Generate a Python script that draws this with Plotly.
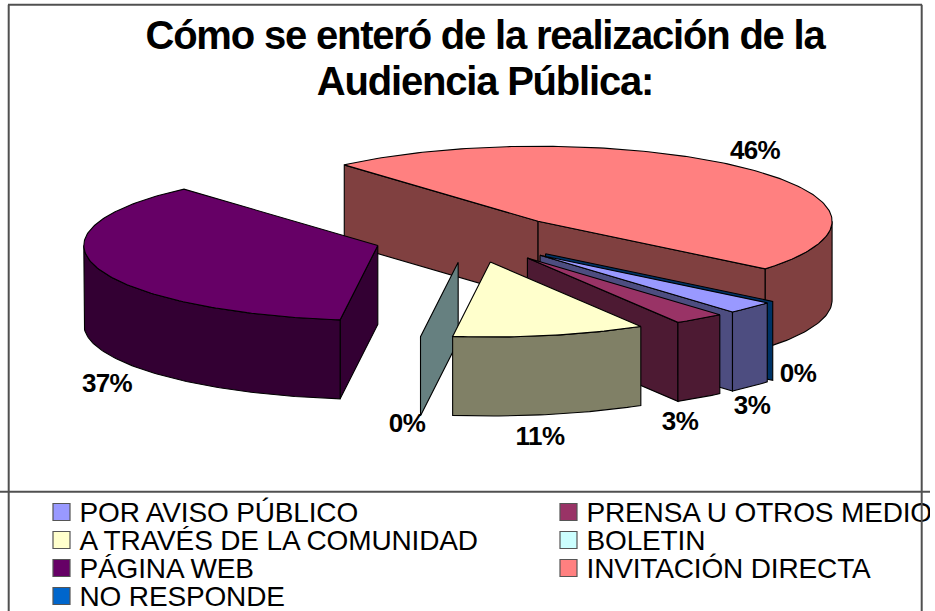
import math
import plotly.graph_objects as go

categories = ["POR AVISO PÚBLICO", "PRENSA U OTROS MEDIOS", "A TRAVÉS DE LA COMUNIDAD", "BOLETIN",
              "PÁGINA WEB", "INVITACIÓN DIRECTA", "NO RESPONDE"]
values = [2.7, 2.8, 10.6, 0.0, 36.5, 47.4, 0.0]
value_labels = ["3%", "3%", "11%", "0%", "37%", "46%", "0%"]
top_colors = ["#9999FF", "#993366", "#FFFFCC", "#CCFFFF", "#660066", "#FF8080", "#0066CC"]
side_colors = ["#4D4D80", "#4D1A33", "#808066", "#668080", "#330033", "#804040", "#003366"]
title_lines = ["Cómo se enteró de la realización de la", "Audiencia Pública:"]

# Pie layout, in the pixel scale of the axes
CX, CY, RX, RY, DEPTH = 470.6, 238.5, 294, 75, 79
EXPLODE_X, EXPLODE_Y = 97, 24
START = 129.4
DRAW_ORDER = [5, 4, 6, 0, 1, 3, 2]
LABEL_X = [752, 680, 540, 407, 107, 755, 798]
LABEL_Y = [407, 423, 438, 425, 385, 152, 375]
LEGEND_X = [53, 560]
LEGEND_Y = [512, 540, 568, 596]
LEGEND_POS = [(0, 0), (1, 0), (0, 1), (1, 1), (0, 2), (1, 2), (0, 3)]
TITLE_X = 485
TITLE_Y = [39, 85]

fig = go.Figure()


def poly(xs, ys, color):
    fig.add_trace(go.Scatter(x=xs, y=ys, mode="lines", fill="toself", fillcolor=color,
                             line=dict(color="#000000", width=1.1), hoverinfo="skip", showlegend=False))


starts = []
a = START
for v in values:
    starts.append(a)
    a += v * 3.6

for i in DRAW_ORDER:
    s = starts[i]
    e = s + values[i] * 3.6
    mid = math.radians((s + e) / 2)
    ax = CX + EXPLODE_X * math.sin(mid)
    ay = CY - EXPLODE_Y * math.cos(mid)

    def rim(t):
        r = math.radians(t)
        return ax + RX * math.sin(r), ay - RY * math.cos(r)

    def arc(t0, t1):
        n = max(int(abs(t1 - t0)), 1)
        return [rim(t0 + (t1 - t0) * k / n) for k in range(n + 1)]

    # Flat walls along the two radii, when they face the viewer
    for edge, normal in ((s, s - 90), (e, e + 90)):
        if -math.cos(math.radians(normal)) > 0:
            px, py = rim(edge)
            poly([ax, px, px, ax, ax], [ay, py, py + DEPTH, ay + DEPTH, ay], side_colors[i])
    # Curved wall along the front of the rim
    for k in (0, 360):
        t0, t1 = max(s, 90 + k), min(e, 270 + k)
        if t1 > t0:
            pts = arc(t0, t1)
            xs = [p[0] for p in pts] + [p[0] for p in reversed(pts)]
            ys = [p[1] for p in pts] + [p[1] + DEPTH for p in reversed(pts)]
            poly(xs + xs[:1], ys + ys[:1], side_colors[i])
    # Top face
    if values[i] > 0:
        pts = arc(s, e)
        poly([ax] + [p[0] for p in pts] + [ax], [ay] + [p[1] for p in pts] + [ay], top_colors[i])

# Data labels
fig.add_trace(go.Scatter(x=LABEL_X, y=LABEL_Y, mode="text", text=value_labels, textposition="middle center",
                         textfont=dict(family="Liberation Sans", size=26, color="#000000", weight="bold"),
                         hoverinfo="skip", showlegend=False))

# Legend
lx = [LEGEND_X[c] + 8.5 for c, r in LEGEND_POS]
ly = [LEGEND_Y[r] for c, r in LEGEND_POS]
fig.add_trace(go.Scatter(x=lx, y=ly, mode="markers",
                         marker=dict(symbol="square", size=17, color=top_colors,
                                     line=dict(color="#555555", width=1.2)),
                         hoverinfo="skip", showlegend=False))
fig.add_trace(go.Scatter(x=[x + 18 for x in lx], y=[y + 3 for y in ly], mode="text", text=categories,
                         textposition="middle right",
                         textfont=dict(family="Liberation Sans", size=28, color="#000000"),
                         hoverinfo="skip", showlegend=False))

# Title
fig.add_trace(go.Scatter(x=[TITLE_X] * 2, y=TITLE_Y, mode="text", text=title_lines, textposition="middle center",
                         textfont=dict(family="Liberation Sans", size=40, color="#000000", weight="bold"),
                         hoverinfo="skip", showlegend=False))

line = dict(color="#505050", width=2)
fig.add_shape(type="line", x0=8.7, x1=8.7, y0=4.7, y1=611, line=line, layer="above")
fig.add_shape(type="line", x0=8, x1=922, y0=4.7, y1=4.7, line=line, layer="above")
fig.add_shape(type="line", x0=921.7, x1=921.7, y0=4.7, y1=611, line=line, layer="above")
fig.add_shape(type="line", x0=0, x1=930, y0=491.7, y1=491.7, line=line, layer="above")

fig.update_layout(
    width=935, height=611, margin=dict(l=0, r=5, t=0, b=0),
    paper_bgcolor="#FFFFFF", plot_bgcolor="#FFFFFF", showlegend=False,
    xaxis=dict(range=[0, 930], visible=False, fixedrange=True),
    yaxis=dict(range=[611, 0], visible=False, fixedrange=True),
)

page_style = """
document.body.style.margin = '0';
document.querySelectorAll('.textpoint text').forEach(t => {
  const s = parseFloat(t.style.fontSize);
  t.style.letterSpacing = s >= 40 ? '-1.2px' : (s >= 28 ? '-0.15px' : '-0.6px');
});
"""
fig.write_html("out.html", post_script=page_style, config={"displayModeBar": False})
